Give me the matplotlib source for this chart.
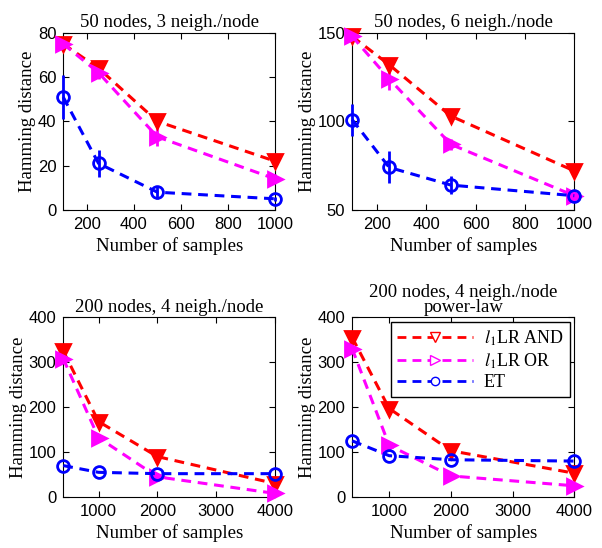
import matplotlib.pyplot as plt
import numpy as np
from matplotlib.lines import Line2D

plt.rcParams["mathtext.fontset"] = "stix"

# samples per panel
n_small = [100, 250, 500, 1000]
n_big = [400, 1000, 2000, 4000]

# 50 nodes, 3 neigh./node
a_and = [75, 64, 40, 22]
a_or = [75, 62, 33, 14]
a_et = [51, 21, 8, 5]
a_and_err = [2, 2, 3, 2]
a_or_err = [2, 3, 4, 2]
a_et_err = [10, 6, 3, 1]

# 50 nodes, 6 neigh./node
b_and = [148, 132, 103, 72]
b_or = [148, 124, 87, 58]
b_et = [101, 74, 64, 58]
b_and_err = [2, 3, 3, 2]
b_or_err = [3, 6, 3, 2]
b_et_err = [9, 9, 5, 2]

# 200 nodes, 4 neigh./node
c_and = [325, 168, 90, 30]
c_or = [308, 132, 45, 8]
c_et = [70, 55, 52, 52]

# 200 nodes, 4 neigh./node, power-law
d_and = [355, 197, 103, 53]
d_or = [330, 115, 47, 25]
d_et = [125, 92, 83, 80]

titles = ["50 nodes, 3 neigh./node", "50 nodes, 6 neigh./node",
          "200 nodes, 4 neigh./node", "200 nodes, 4 neigh./node\npower-law"]

RED, MAG, BLUE = "#ff0000", "#ff00ff", "#0000ff"
serif = "Liberation Serif"
sans = "Liberation Sans"

fig = plt.figure(figsize=(6.02, 5.48), dpi=100)
pos = [[0.105, 0.617, 0.352, 0.323], [0.585, 0.617, 0.369, 0.323],
       [0.105, 0.093, 0.352, 0.328], [0.585, 0.093, 0.369, 0.328]]

panels = [
    (n_small, a_and, a_or, a_et, a_and_err, a_or_err, a_et_err, (100, 1000), (0, 80), [200, 400, 600, 800, 1000], [0, 20, 40, 60, 80]),
    (n_small, b_and, b_or, b_et, b_and_err, b_or_err, b_et_err, (100, 1000), (50, 150), [200, 400, 600, 800, 1000], [50, 100, 150]),
    (n_big, c_and, c_or, c_et, None, None, None, (400, 4000), (0, 400), [1000, 2000, 3000, 4000], [0, 100, 200, 300, 400]),
    (n_big, d_and, d_or, d_et, None, None, None, (400, 4000), (0, 400), [1000, 2000, 3000, 4000], [0, 100, 200, 300, 400]),
]

dash = (0, (3.2, 2.2))
for i, (x, y1, y2, y3, e1, e2, e3, xl, yl, xt, yt) in enumerate(panels):
    ax = fig.add_axes(pos[i])
    for y, e, c, m, ms in [(y1, e1, RED, "v", 9.5), (y2, e2, MAG, ">", 9.5), (y3, e3, BLUE, "o", 8.5)]:
        fill = c if m != "o" else "none"
        ax.errorbar(x, y, yerr=e, color=c, ls=dash, lw=2.2, marker=m, ms=ms,
                    mfc=fill, mec=c, mew=2, elinewidth=2, capsize=0, clip_on=False, zorder=3)
    ax.set_xlim(*xl)
    ax.set_ylim(*yl)
    ax.set_xticks(xt)
    ax.set_yticks(yt)
    ax.tick_params(direction="in", top=True, right=True, length=4, labelsize=12, pad=5)
    for lab in ax.get_xticklabels() + ax.get_yticklabels():
        lab.set_fontfamily(sans)
    ax.set_title(titles[i], fontsize=13.5, family=serif, pad=4, linespacing=0.85)
    ax.set_xlabel("Number of samples", fontsize=13.5, family=serif, labelpad=4)
    ax.set_ylabel("Hamming distance", fontsize=13.5, family=serif, labelpad=1)
    if i == 3:
        handles = [Line2D([], [], color=RED, ls=dash, lw=2, marker="v", ms=7, mfc="white", mec=RED, mew=1),
                   Line2D([], [], color=MAG, ls=dash, lw=2, marker=">", ms=7, mfc="white", mec=MAG, mew=1),
                   Line2D([], [], color=BLUE, ls=dash, lw=2, marker="o", ms=6, mfc="white", mec=BLUE, mew=1)]
        ax.legend(handles, [r"$l_1$LR AND", r"$l_1$LR OR", "ET"], loc="upper right",
                  prop={"family": serif, "size": 13}, fancybox=False, edgecolor="black",
                  framealpha=1, handlelength=4.2, borderaxespad=0.25, labelspacing=0.2,
                  handletextpad=0.6, borderpad=0.35)

fig.savefig("out.png", dpi=100)
